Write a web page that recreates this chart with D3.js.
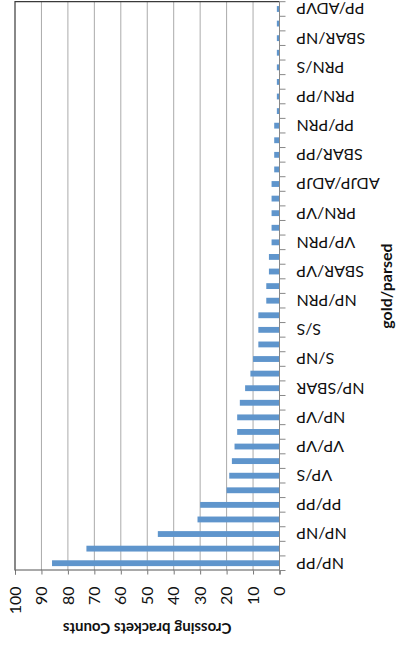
<!DOCTYPE html>
<html>
<head>
<meta charset="utf-8">
<script src="https://cdn.jsdelivr.net/npm/d3@7"></script>
<style>
  html, body { margin: 0; padding: 0; background: #fff; }
  svg { display: block; }
  text { font-family: Lato, "Open Sans", sans-serif; fill: #111; }
</style>
</head>
<body>
<svg id="chart" width="396" height="650"></svg>
<script>
// Crossing-bracket counts per gold/parsed label pair, most frequent first.
const counts = [86, 73, 46, 31, 30, 20, 19, 18, 17, 16, 16, 15, 13, 11, 10, 8, 8, 8, 5, 5,
                4, 4, 3, 3, 3, 3, 3, 2, 2, 2, 2, 1, 1, 1, 1, 1, 1, 1, 1];
// Category labels shown on the axis (every second category carries a label).
const tickLabels = ["NP/PP", "NP/NP", "PP/PP", "VP/S", "VP/VP", "NP/VP", "NP/SBAR", "S/NP",
                    "S/S", "NP/PRN", "SBAR/VP", "VP/PRN", "PRN/VP", "ADJP/ADJP", "SBAR/PP",
                    "PP/PRN", "PRN/PP", "PRN/S", "SBAR/NP", "PP/ADVP"];
const valueTicks = [0, 10, 20, 30, 40, 50, 60, 70, 80, 90, 100];
const valueTitle = "Crossing brackets Counts";
const categoryTitle = "gold/parsed";

// The column chart is laid out in a 650 x 396 frame, then turned a quarter turn
// counter-clockwise to fit the tall page.
const W = 650, H = 396;
const plot = { left: 79.5, right: 648.3, top: 15, bottom: 279.5 };

const svg = d3.select("#chart");
const g = svg.append("g").attr("transform", `translate(0,${W}) rotate(-90)`);

const x = d3.scaleBand()
  .domain(d3.range(counts.length))
  .range([plot.left, plot.right])
  .paddingInner(0.6)
  .paddingOuter(0.3);

const y = d3.scaleLinear().domain([0, 100]).range([plot.bottom, plot.top]);

// Horizontal gridlines
g.append("g")
  .selectAll("line")
  .data(valueTicks.filter(v => v > 0 && v < 100))
  .join("line")
  .attr("x1", plot.left).attr("x2", plot.right)
  .attr("y1", d => y(d)).attr("y2", d => y(d))
  .attr("stroke", "#ababab").attr("stroke-width", 1);

// Plot-area frame (top and right edges)
g.append("path")
  .attr("d", `M${plot.left},${y(100)}H${plot.right}V${plot.bottom}`)
  .attr("fill", "none").attr("stroke", "#3a3a3a").attr("stroke-width", 1.2);

// Bars
g.append("g")
  .selectAll("rect")
  .data(counts)
  .join("rect")
  .attr("x", (d, i) => x(i))
  .attr("width", x.bandwidth())
  .attr("y", d => y(d))
  .attr("height", d => y(0) - y(d))
  .attr("fill", "#5f95cc");

// Value axis
const yAxis = g.append("g")
  .attr("transform", `translate(${plot.left},0)`)
  .call(d3.axisLeft(y).tickValues(valueTicks).tickSize(4).tickPadding(12).tickFormat(d3.format("d")));
yAxis.select(".domain").attr("stroke", "#555");
yAxis.selectAll(".tick line").attr("stroke", "#777");
yAxis.selectAll("text").attr("font-size", 16).attr("fill", "#111")
  .attr("font-family", "Lato, 'Open Sans', sans-serif");

// Category axis: a tick on every category boundary, a label on every second category
const step = x.step();
const boundaries = d3.range(counts.length + 1).map(i =>
  i < counts.length ? x(i) + x.bandwidth() / 2 - step / 2 : x(i - 1) + x.bandwidth() / 2 + step / 2);
const xAxis = g.append("g");
xAxis.append("line")
  .attr("x1", plot.left).attr("x2", plot.right)
  .attr("y1", y(0)).attr("y2", y(0))
  .attr("stroke", "#888");
xAxis.selectAll("line.tick")
  .data(boundaries)
  .join("line")
  .attr("class", "tick")
  .attr("x1", d => d).attr("x2", d => d)
  .attr("y1", y(0)).attr("y2", y(0) + 6)
  .attr("stroke", "#888");
xAxis.selectAll("text")
  .data(tickLabels)
  .join("text")
  .attr("transform", (d, k) => `translate(${x(2 * k) + x.bandwidth() / 2},${y(0) + 17}) rotate(-90)`)
  .attr("text-anchor", "end")
  .attr("dy", "0.35em")
  .attr("font-size", 16)
  .text(d => d);

// Axis titles
g.append("text")
  .attr("transform", `translate(22,${(plot.top + plot.bottom) / 2}) rotate(-90)`)
  .attr("text-anchor", "middle")
  .attr("dy", "0.35em")
  .attr("font-size", 15)
  .attr("font-weight", "bold")
  .text(valueTitle);

g.append("text")
  .attr("x", (plot.left + plot.right) / 2)
  .attr("y", 386)
  .attr("text-anchor", "middle")
  .attr("dy", "0.35em")
  .attr("font-size", 16)
  .attr("font-weight", "bold")
  .text(categoryTitle);
</script>
</body>
</html>
